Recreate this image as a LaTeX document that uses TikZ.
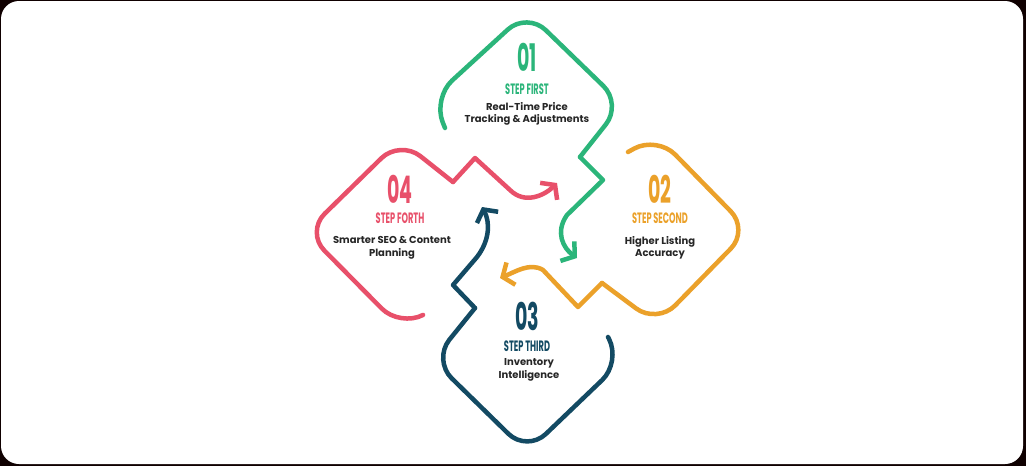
\documentclass[tikz,border=0pt]{standalone}
\usepackage{fontspec}
\setmainfont{Poppins}
\usetikzlibrary{arrows.meta}
\definecolor{cg}{HTML}{2BB57A}
\definecolor{co}{HTML}{EBA12A}
\definecolor{cn}{HTML}{134A63}
\definecolor{cr}{HTML}{E8506A}
\tikzset{
  lw/.style={line width=4.5pt,line cap=round,line join=round},
  loop/.style={lw,rounded corners=26pt},
  zig/.style={lw,-{Straight Barb[length=9pt,width=24pt,line width=4.5pt]}},
  num/.style={font=\fontsize{38}{38}\selectfont\bfseries,xscale=0.5,inner sep=0pt},
  steplbl/.style={font=\fontsize{15}{15}\selectfont\bfseries,xscale=0.55,inner sep=0pt},
  body/.style={font=\fontsize{10}{12.5}\selectfont\bfseries,align=center,text=black!85,inner sep=0pt}
}
\begin{document}
\begin{tikzpicture}[x=1pt,y=-1pt]
\useasboundingbox (0,0) rectangle (1026,466);
\fill[black!85!red!40!black] (0,0) rectangle (1026,466);
\fill[white,rounded corners=18pt] (1,1) rectangle (1023,464);
% green
\draw[loop,cg] (445,128) -- (433,98) -- (527,12) -- (622,104) -- (580,157);
\draw[zig,cg] (580,157) -- (603,180) -- (567,215)
  .. controls (555,232) and (563,248) .. (577,258);
% orange
\draw[loop,co] (628,152) -- (657,136) -- (749,230) -- (657,324) -- (602,283);
\draw[zig,co] (602,283) -- (578,307) -- (543,270)
  .. controls (530,262) and (515,272) .. (500,278);
% navy
\draw[loop,cn] (608,337) -- (621,362) -- (527,452) -- (433,360) -- (475,308);
\draw[zig,cn] (475,308) -- (453,285) -- (477,257)
  .. controls (490,240) and (490,222) .. (482,207);
% red
\draw[loop,cr] (423,315) -- (400,327) -- (306,232) -- (400,140) -- (453,182);
\draw[zig,cr] (453,182) -- (475,158) -- (510,190)
  .. controls (525,205) and (545,195) .. (557,183);
% texts
\node[num,text=cg] (n1) at (527,57) {01};
\node[steplbl,text=cg] (s1) at (527,89) {STEP FIRST};
\node[body] (b1) at (527,114) {Real-Time Price\\Tracking \& Adjustments};
\node[num,text=co] (n2) at (660,189) {02};
\node[steplbl,text=co] (s2) at (660,218) {STEP SECOND};
\node[body] (b2) at (660,248) {Higher Listing\\Accuracy};
\node[num,text=cn] (n3) at (527,316) {03};
\node[steplbl,text=cn] (s3) at (527,346) {STEP THIRD};
\node[body] (b3) at (529,370) {Inventory\\Intelligence};
\node[num,text=cr] (n4) at (400,189) {04};
\node[steplbl,text=cr] (s4) at (400,218) {STEP FORTH};
\node[body] (b4) at (392,248) {Smarter SEO \& Content\\Planning};
\end{tikzpicture}
\end{document}
